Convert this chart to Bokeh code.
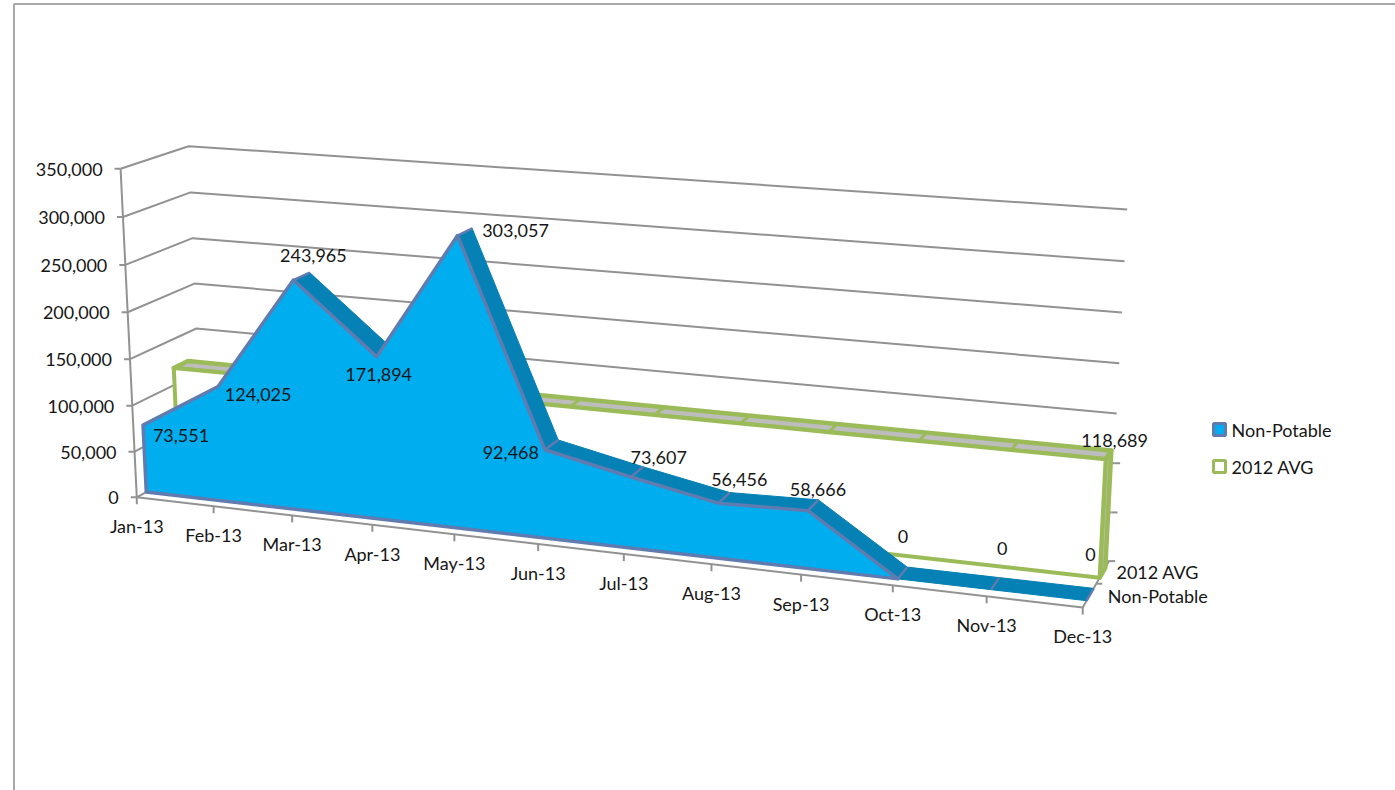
import numpy as np
from bokeh.plotting import figure
from bokeh.models import Range1d
from bokeh.core.properties import value
from bokeh.embed import file_html
from bokeh.resources import INLINE

# ---------- data ----------
months = ["Jan-13", "Feb-13", "Mar-13", "Apr-13", "May-13", "Jun-13",
          "Jul-13", "Aug-13", "Sep-13", "Oct-13", "Nov-13", "Dec-13"]
non_potable = [73551, 124025, 243965, 171894, 303057, 92468,
               73607, 56456, 58666, 0, 0, 0]
avg_2012 = [118689] * 12
value_ticks = [0, 50000, 100000, 150000, 200000, 250000, 300000, 350000]
series_names = ["Non-Potable", "2012 AVG"]

# ---------- layout / style ----------
W, H = 1395, 790
FONT = value("Lato")
FS = "18px"
TXT = "#161616"
GRID = "#929292"
BLUE, BLUE_TOP, SLATE = "#00aeef", "#0581b5", "#5f7bb0"
GREEN, GREY = "#9bbb59", "#bdbdbd"
VMAX = 350000.0
D_BLUE = (0.14, 0.40)
D_GREEN = (0.63, 0.85)
label_off_blue = [(38, 10), (40, 8), (20, -25), (2, 18), (58, -5), (-34, 3),
                  (28, -20), (21, -24), (10, -21), (5, -42), (11, -41), (4, -46)]
label_off_avg = (9, -19)

# camera calibration: (month frac, value frac, depth frac) -> screen pixel
tick_x = [136, 213, 292, 372, 454, 538, 623, 711, 801, 892, 986, 1082]
cal = []
for i, x in enumerate(tick_x):
    cal.append(((i / 11, 0, 0), (x, 497 + (x - 136) * 110 / 946)))
for k, (x, y) in enumerate([(136, 497), (134, 451), (132, 404), (130, 358), (127, 311), (125, 264), (122, 217), (120, 169)]):
    cal.append(((0, k / 7, 0), (x, y)))
for k, (x, y) in zip(range(3, 8), [(196, 328), (194, 283), (192, 238), (190, 192), (188, 146)]):
    cal.append(((0, k / 7, 1), (x, y)))
for k, (x, y) in enumerate([(1110, 561), (1111, 512), (1112, 462), (1114.5, 412.7), (1119.5, 362.7), (1122, 312), (1124.5, 261), (1127, 209)]):
    cal.append(((1, k / 7, 1), (x, y)))

A, b = [], []
for (t, v, d), (x, y) in cal:
    A.append([t, v, d, 1, 0, 0, 0, 0, -x * t, -x * v, -x * d]); b.append(x)
    A.append([0, 0, 0, 0, t, v, d, 1, -y * t, -y * v, -y * d]); b.append(y)
m = np.linalg.lstsq(np.array(A, float), np.array(b, float), rcond=None)[0]


def pr(i, val, d):
    """Project month index, data value and depth fraction to page pixels."""
    t, v = i / 11.0, val / VMAX
    w = m[8] * t + m[9] * v + m[10] * d + 1
    return ((m[0] * t + m[1] * v + m[2] * d + m[3]) / w,
            (m[4] * t + m[5] * v + m[6] * d + m[7]) / w)


def path(points):
    pts = [pr(*q) for q in points]
    return [a[0] for a in pts], [a[1] for a in pts]


p = figure(width=W, height=H, output_backend="svg", toolbar_location=None,
           x_range=Range1d(0, W), y_range=Range1d(H, 0),
           x_axis_type=None, y_axis_type=None, min_border=0, outline_line_color=None)
p.xgrid.visible = False
p.ygrid.visible = False

# outer chart frame
p.line([13.5, 13.5, W], [H, 3.5, 3.5], line_color="#a8a8a8", line_width=2)

# walls and floor
for val in value_ticks:
    x, y = path([(0, val, 0), (0, val, 1), (11, val, 1)])
    p.line(x, y, line_color=GRID, line_width=2)
x, y = path([(0, 0, 0), (0, VMAX, 0)])
p.line(x, y, line_color=GRID, line_width=2)
x, y = path([(0, 0, 0), (11, 0, 0), (11, 0, 1)])
p.line(x, y, line_color=GRID, line_width=2)

# axis ticks
for val in value_ticks:
    x, y = pr(0, val, 0)
    p.line([x - 6, x], [y, y], line_color=GRID, line_width=2)
    p.text([x - 18], [y + 0.5], text=[f"{val:,}"], text_align="right", text_baseline="middle",
           text_font=FONT, text_font_size=FS, text_color=TXT)
for i, name in enumerate(months):
    x, y = pr(i, 0, 0)
    p.line([x, x], [y, y + 7], line_color=GRID, line_width=2)
    p.text([x], [y + 29], text=[name], text_align="center", text_baseline="middle",
           text_font=FONT, text_font_size=FS, text_color=TXT)
for d in (0.5, 1.0):
    x, y = pr(11, 0, d)
    p.line([x, x + 6], [y, y], line_color=GRID, line_width=2)
for i in (2, 3):
    x2, y2 = pr(11, 100000 * (i - 1) / 2, 1)
    p.line([x2, x2 + 6], [y2, y2], line_color=GRID, line_width=2)

# 2012 AVG ribbon
d0, d1 = D_GREEN
n = len(months) - 1
x, y = path([(0, avg_2012[0], d0), (n, avg_2012[n], d0), (n, avg_2012[n], d1), (0, avg_2012[0], d1)])
p.patch(x, y, fill_color=GREY, line_color=GREEN, line_width=4.5, line_join="round")
x, y = path([(n, avg_2012[n], d0), (n, avg_2012[n], d1), (n, 0, d1), (n, 0, d0)])
p.patch(x, y, fill_color=GREY, line_color=GREEN, line_width=4.5, line_join="round")
for i in range(len(months)):
    x, y = path([(i, avg_2012[i], d0), (i, avg_2012[i], d1)])
    p.line(x, y, line_color=GREEN, line_width=3)
pts = [(i, avg_2012[i], d0) for i in range(len(months))] + [(n, 0, d0), (0, 0, d0)]
x, y = path(pts)
p.patch(x, y, fill_color="white", line_color=GREEN, line_width=4, line_join="round")

# Non-Potable ribbon
d0, d1 = D_BLUE
for i in range(n):
    x, y = path([(i, non_potable[i], d0), (i + 1, non_potable[i + 1], d0),
                 (i + 1, non_potable[i + 1], d1), (i, non_potable[i], d1)])
    p.patch(x, y, fill_color=BLUE_TOP, line_color=BLUE_TOP, line_width=1)
for i in range(len(months)):
    x, y = path([(i, non_potable[i], d0), (i, non_potable[i], d1)])
    p.line(x, y, line_color=SLATE, line_width=2.5)
last = max(i for i, v in enumerate(non_potable) if v > 0) + 1
pts = [(i, non_potable[i], d0) for i in range(last + 1)] + [(0, 0, d0)]
x, y = path(pts)
p.patch(x, y, fill_color=BLUE, line_color=SLATE, line_width=3.5, line_join="round")

# data labels
for i, v in enumerate(non_potable):
    x, y = pr(i, v, d0)
    dx, dy = label_off_blue[i]
    p.text([x + dx], [y + dy], text=[f"{v:,}"], text_align="center", text_baseline="middle",
           text_font=FONT, text_font_size=FS, text_color=TXT)
x, y = pr(n, avg_2012[n], D_GREEN[0])
p.text([x + label_off_avg[0]], [y + label_off_avg[1]], text=[f"{avg_2012[n]:,}"], text_align="center",
       text_baseline="middle", text_font=FONT, text_font_size=FS, text_color=TXT)

# depth axis labels
x, y = pr(11, 0, 0)
p.text([x + 75], [y - 11], text=[series_names[0]], text_align="center", text_baseline="middle",
       text_font=FONT, text_font_size=FS, text_color=TXT)
p.text([x + 75], [y - 35], text=[series_names[1]], text_align="center", text_baseline="middle",
       text_font=FONT, text_font_size=FS, text_color=TXT)

# legend
p.rect([1219], [429], width=12, height=12, fill_color=BLUE, line_color=SLATE, line_width=3)
p.rect([1219], [466], width=12, height=12, fill_color="white", line_color=GREEN, line_width=3)
p.text([1231], [429], text=[series_names[0]], text_baseline="middle", text_font=FONT,
       text_font_size=FS, text_color=TXT)
p.text([1231], [466], text=[series_names[1]], text_baseline="middle", text_font=FONT,
       text_font_size=FS, text_color=TXT)

open("out.html", "w").write(file_html(p, INLINE))
